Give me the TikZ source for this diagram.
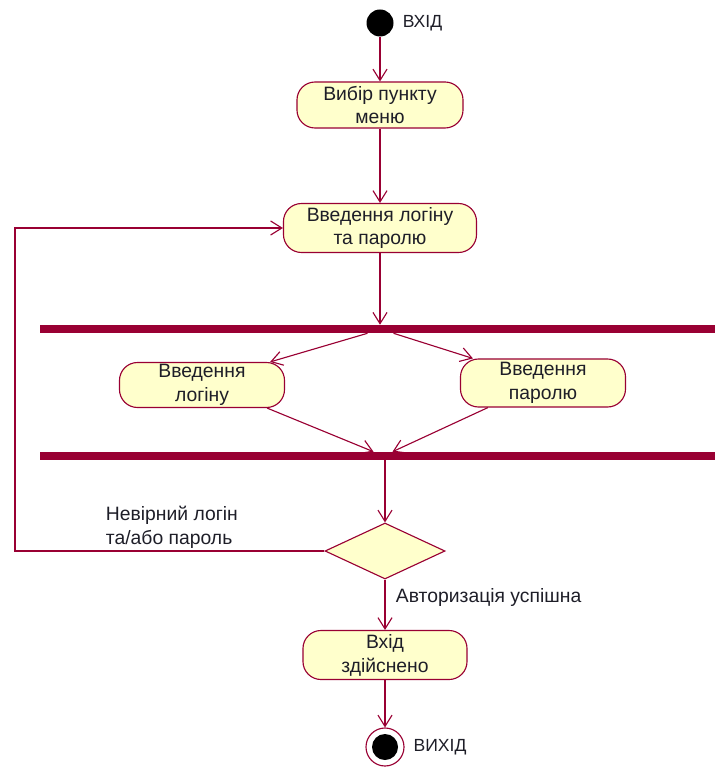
\documentclass[tikz,border=0pt]{standalone}
\usepackage{fontspec}
\setmainfont{Liberation Sans}
\usetikzlibrary{arrows.meta,shapes.geometric,positioning,calc}

\definecolor{uml}{RGB}{153,0,51}
\definecolor{umlfill}{RGB}{255,255,204}
\definecolor{umltext}{RGB}{30,30,40}

\begin{document}
\begin{tikzpicture}[x=0.025cm, y=-0.025cm,
  every node/.style={font=\fontsize{13.75}{17}\selectfont, text=umltext},
  small/.style={font=\fontsize{12.5}{15}\selectfont},
  activity/.style={rectangle, rounded corners=0.45cm, draw=uml, fill=umlfill,
    line width=0.8pt, align=center, inner sep=0pt},
  bar/.style={rectangle, fill=uml, inner sep=0pt, minimum width=16.875cm, minimum height=0.2cm},
  flow/.style={draw=uml, line width=0.8pt, -{Straight Barb[length=8pt,width=10pt]}},
  plain/.style={draw=uml, line width=0.8pt}]

\useasboundingbox (0,0) rectangle (715,767);

\node[circle, fill=black, inner sep=0pt, minimum size=0.675cm] at (380,23) (start) {};
\node[small, right=0.1cm of start] (startl) {ВХІД};

\node[activity, minimum width=4.15cm, minimum height=1.15cm] at (380,105) (menu) {Вибір пункту\\меню};
\node[activity, minimum width=4.825cm, minimum height=1.225cm] at (380,228) (input) {Введення логіну\\та паролю};

\node[bar] at (377.5,329) (fork) {};

\node[activity, minimum width=4.125cm, minimum height=1.125cm] at (202,385) (login) {Введення\\логіну};
\node[activity, minimum width=4.125cm, minimum height=1.2cm] at (543,383) (passw) {Введення\\паролю};

\node[bar] at (377.5,456) (join) {};

\node[diamond, draw=uml, fill=umlfill, line width=0.8pt, inner sep=0pt,
  minimum width=3cm, minimum height=1.4cm] at (385,551) (check) {};

\node[activity, minimum width=4.1cm, minimum height=1.225cm] at (385,655) (done) {Вхід\\здійснено};

\node[circle, draw=uml, fill=white, line width=0.8pt, inner sep=0pt, minimum size=0.95cm] at (385,747) (stop) {};
\node[circle, fill=black, inner sep=0pt, minimum size=0.65cm] at (stop) (stopdot) {};
\node[small, right=0.1cm of stop] (stopl) {ВИХІД};

\node[anchor=west, align=left] at (101,527) (faill) {Невірний логін\\та/або пароль};
\node[anchor=west] at (391,597) (okl) {Авторизація успішна};

\coordinate (back) at (15,551);

\draw[flow] (start) -- (menu);
\draw[flow] (menu) -- (input);
\draw[flow] (input) -- (input |- fork.north);

\draw[flow] ($(fork.south)+(-10,0)$) -- ($(login.north east)+(-15,0)$);
\draw[flow] ($(fork.south)+(16,0)$) -- ($(passw.north west)+(13,0)$);

\draw[flow] ($(login.south east)+(-18,0)$) -- ($(join.north)+(-4,0)$);
\draw[flow] ($(passw.south west)+(28,0)$) -- ($(join.north)+(15,0)$);

\draw[flow] (check.north |- join.south) -- (check.north);
\draw[flow] (check.south) -- (done.north);
\draw[flow] (done.south) -- (stop.north);

\draw[flow] (check.west) -- (back) |- (input.west);

\end{tikzpicture}
\end{document}
